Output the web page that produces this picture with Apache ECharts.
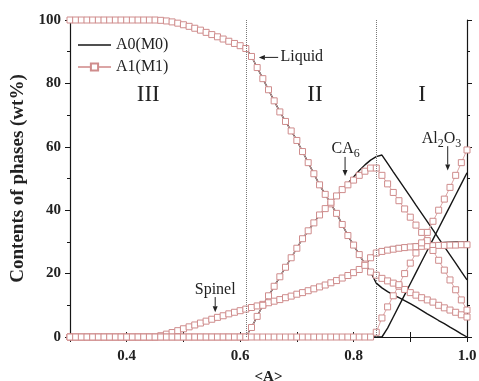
<!DOCTYPE html>
<html>
<head>
<meta charset="utf-8">
<script src="https://cdn.jsdelivr.net/npm/echarts@6/dist/echarts.min.js"></script>
<style>
  html, body { margin: 0; padding: 0; background: #fff; }
  #chart { width: 479px; height: 381px; }
</style>
</head>
<body>
<div id="chart"></div>
<script>
// composition <A>, step 0.01 from 0.30 to 1.00
const xValues = [
  0.30, 0.31, 0.32, 0.33, 0.34, 0.35, 0.36, 0.37, 0.38, 0.39,
  0.40, 0.41, 0.42, 0.43, 0.44, 0.45, 0.46, 0.47, 0.48, 0.49,
  0.50, 0.51, 0.52, 0.53, 0.54, 0.55, 0.56, 0.57, 0.58, 0.59,
  0.60, 0.61, 0.62, 0.63, 0.64, 0.65, 0.66, 0.67, 0.68, 0.69,
  0.70, 0.71, 0.72, 0.73, 0.74, 0.75, 0.76, 0.77, 0.78, 0.79,
  0.80, 0.81, 0.82, 0.83, 0.84, 0.85, 0.86, 0.87, 0.88, 0.89,
  0.90, 0.91, 0.92, 0.93, 0.94, 0.95, 0.96, 0.97, 0.98, 0.99, 1.00
];

// A1(M1) phases (wt%)
const liquidA1 = [
  100, 100, 100, 100, 100, 100, 100, 100, 100, 100, 100, 100, 100, 100, 100, 100,
  99.9, 99.7, 99.4, 99.0, 98.5, 98.0, 97.4, 96.8, 96.1, 95.4, 94.7, 94.0, 93.3, 92.6, 91.9, 91.0,
  88.5, 85, 81.5, 78, 74.5, 71, 68, 65, 62, 58.5, 55, 51.5, 48, 45, 42, 39, 35.5, 32, 29, 26, 23, 20.5,
  19.5, 18.5, 17.7, 17, 16, 15, 14, 13.2, 12.4, 11.7, 11, 10, 9.2, 8.5, 7.8, 7, 6.3
];
const spinelA1 = [
  0, 0, 0, 0, 0, 0, 0, 0, 0, 0, 0, 0, 0, 0, 0, 0,
  0.4, 0.9, 1.4, 2.0, 2.6, 3.2, 3.8, 4.4, 5.0, 5.6, 6.2, 6.7, 7.3, 7.8, 8.3, 8.8,
  9.3, 9.8, 10.3, 10.8, 11.3, 11.8, 12.4, 12.9, 13.5, 14.0, 14.6, 15.2, 15.8, 16.4, 17.1, 17.8, 18.6, 19.4, 20.3, 21.3, 22.6, 25.0,
  26.5, 27.0, 27.4, 27.7, 28.0, 28.2, 28.4, 28.5, 28.6, 28.7, 28.8, 28.9, 28.9, 29.0, 29.0, 29.1, 29.1
];
const ca6A1 = [
  0, 0, 0, 0, 0, 0, 0, 0, 0, 0, 0, 0, 0, 0, 0, 0,
  0, 0, 0, 0, 0, 0, 0, 0, 0, 0, 0, 0, 0, 0, 0, 0,
  3, 6.5, 10, 13, 16, 19, 22, 25, 28, 31, 33.5, 36, 38.5, 40.5, 42.5, 44.5, 46.5, 48, 49.5, 51, 52.3, 53.3,
  53.3, 51, 48.3, 45.6, 43, 40.4, 37.8, 35.3, 33, 30.4, 27.3, 24.2, 21.1, 18.0, 14.9, 11.7, 8.5
];
const al2o3A1 = [
  0, 0, 0, 0, 0, 0, 0, 0, 0, 0, 0, 0, 0, 0, 0, 0,
  0, 0, 0, 0, 0, 0, 0, 0, 0, 0, 0, 0, 0, 0, 0, 0,
  0, 0, 0, 0, 0, 0, 0, 0, 0, 0, 0, 0, 0, 0, 0, 0, 0, 0, 0, 0, 0, 0,
  1.5, 6, 9.5, 13, 16.5, 20, 23.3, 26.5, 29.7, 33, 36.5, 40, 43.5, 47.2, 51, 55, 59
];

// A0(M0) phases (wt%)
const liquidA0 = [
  100, 100, 100, 100, 100, 100, 100, 100, 100, 100, 100, 100, 100, 100, 100, 100,
  99.9, 99.7, 99.4, 99.0, 98.5, 98.0, 97.4, 96.8, 96.1, 95.4, 94.7, 94.0, 93.3, 92.6, 91.9, 91.0,
  88.5, 85, 81.5, 78, 74.5, 71, 68, 65, 62, 58.5, 55, 51.5, 48, 45, 42, 39, 35.5, 32, 29, 26, 23, 20.5,
  17, 15.5, 14.3, 13.3, 12.4, 11.5, 10.5, 9.5, 8.4, 7.3, 6.3, 5.2, 4.2, 3.1, 2.1, 1.0, 0
];
const spinelA0 = [
  0, 0, 0, 0, 0, 0, 0, 0, 0, 0, 0, 0, 0, 0, 0, 0,
  0.4, 0.9, 1.4, 2.0, 2.6, 3.2, 3.8, 4.4, 5.0, 5.6, 6.2, 6.7, 7.3, 7.8, 8.3, 8.8,
  9.3, 9.8, 10.3, 10.8, 11.3, 11.8, 12.4, 12.9, 13.5, 14.0, 14.6, 15.2, 15.8, 16.4, 17.1, 17.8, 18.6, 19.4, 20.3, 21.3, 22.6, 25.0,
  27, 27.7, 28.1, 28.4, 28.7, 28.9, 29.1, 29.3, 29.4, 29.5, 29.6, 29.7, 29.8, 29.9, 30.0, 30.0, 30.1
];
const ca6A0 = [
  0, 0, 0, 0, 0, 0, 0, 0, 0, 0, 0, 0, 0, 0, 0, 0,
  0, 0, 0, 0, 0, 0, 0, 0, 0, 0, 0, 0, 0, 0, 0, 0,
  3, 6.5, 10, 13, 16, 19, 22, 25, 28, 31, 33.5, 36, 38.5, 40.5, 42.5, 44.5, 46.5,
  48.5, 50.5, 52.5, 54.3, 55.8, 56.9, 57.4,
  54.8, 52.1, 49.5, 46.9, 44.3, 41.6, 39.0, 36.4, 33.8, 31.1, 28.5, 25.9, 23.3, 20.6, 18.0
];
const al2o3A0 = [
  0, 0, 0, 0, 0, 0, 0, 0, 0, 0, 0, 0, 0, 0, 0, 0,
  0, 0, 0, 0, 0, 0, 0, 0, 0, 0, 0, 0, 0, 0, 0, 0,
  0, 0, 0, 0, 0, 0, 0, 0, 0, 0, 0, 0, 0, 0, 0, 0, 0, 0, 0, 0, 0, 0, 0, 0,
  2.8, 6.3, 9.8, 13.3, 16.8, 20.3, 23.8, 27.3, 30.8, 34.3, 37.8, 41.3, 44.8, 48.3, 51.8
];

// region boundaries
const boundaries = [0.612, 0.836];

// region labels and phase annotations (data coords)
const regionNames = ['III', 'II', 'I'];
const regionPos = [[0.438, 76.5], [0.732, 76.5], [0.921, 76.5]];
const phaseNames = ['Liquid', 'CA6', 'Al2O3', 'Spinel'];
const phaseRich = ['{n|Liquid}', '{n|CA}{s|6}', '{n|Al}{s|2}{n|O}{s|3}', '{n|Spinel}'];
const phaseTextPos = [[0.671, 88.5], [0.786, 59.5], [0.955, 62.5], [0.556, 15]];
const arrowFrom = [[0.667, 88.2], [0.785, 56.8], [0.966, 60.2], [0.556, 12.6]];
const arrowTo = [[0.633, 88.2], [0.785, 50.8], [0.966, 52.5], [0.556, 7.8]];

const FONT = 'Liberation Serif';
const BLACK = '#161616';
const PINK = '#cf8c8c';

const pairs = ys => ys.map((y, i) => [xValues[i], y]);

const black = ys => ({
  name: 'A0(M0)',
  type: 'line',
  data: pairs(ys),
  symbol: 'none',
  lineStyle: {color: BLACK, width: 1.4},
  itemStyle: {color: BLACK},
  z: 2
});
const pink = ys => ({
  name: 'A1(M1)',
  type: 'line',
  data: pairs(ys),
  symbol: 'rect',
  symbolSize: 6,
  showSymbol: true,
  lineStyle: {color: '#dba5a5', width: 1},
  itemStyle: {color: '#fff', borderColor: PINK, borderWidth: 1},
  z: 3
});

const chart = echarts.init(document.getElementById('chart'));

const series = [
  black(liquidA0), black(spinelA0), black(ca6A0), black(al2o3A0),
  pink(liquidA1), pink(spinelA1), pink(ca6A1), pink(al2o3A1)
];
series[0].markLine = {
  silent: true,
  symbol: 'none',
  label: {show: false},
  lineStyle: {color: '#777', type: 'dotted', width: 1},
  data: boundaries.map(v => ({xAxis: v}))
};

const axisLine = {show: true, lineStyle: {color: BLACK, width: 1.2}};
const axisTick = {show: true, inside: false, length: 5, lineStyle: {color: BLACK}};
const yMinor = {show: true, splitNumber: 2, length: 3, lineStyle: {color: BLACK}};

chart.setOption({
  animation: false,
  grid: {left: 70, right: 12, top: 20, bottom: 44, outerBoundsMode: 'none'},
  legend: {
    data: [
      {name: 'A0(M0)', icon: 'path://M0,0H100V5H0Z'},
      {name: 'A1(M1)'}
    ],
    orient: 'vertical',
    left: 72,
    top: 32,
    itemWidth: 33,
    itemHeight: 9,
    itemGap: 6,
    textStyle: {fontFamily: FONT, fontSize: 16, color: '#222'}
  },
  xAxis: [
    {
      type: 'value', min: 0.3, max: 1.0, interval: 0.1,
      axisLine: axisLine, axisTick: axisTick, splitLine: {show: false},
      name: '<A>', nameLocation: 'middle', nameGap: 33,
      nameTextStyle: {fontFamily: FONT, fontWeight: 'bold', fontSize: 15, color: '#222'},
      axisLabel: {
        fontFamily: FONT, fontWeight: 'bold', fontSize: 15, color: '#222', margin: 12,
        formatter: v => (Math.round(v * 10) % 2 === 0 ? v.toFixed(1) : '')
      }
    },
    {
      type: 'value', min: 0.3, max: 1.0, interval: 0.1, position: 'top',
      axisLine: axisLine, axisTick: axisTick, splitLine: {show: false},
      axisLabel: {show: false}
    }
  ],
  yAxis: [
    {
      type: 'value', min: 0, max: 100, interval: 20,
      axisLine: axisLine, axisTick: axisTick, minorTick: yMinor, splitLine: {show: false},
      name: 'Contents of phases (wt%)', nameLocation: 'middle', nameGap: 40,
      nameTextStyle: {fontFamily: FONT, fontWeight: 'bold', fontSize: 19, color: '#222'},
      axisLabel: {fontFamily: FONT, fontWeight: 'bold', fontSize: 15, color: '#222', margin: 9}
    },
    {
      type: 'value', min: 0, max: 100, interval: 20, position: 'right',
      axisLine: axisLine, axisTick: axisTick, minorTick: yMinor, splitLine: {show: false},
      axisLabel: {show: false}
    }
  ],
  series: series
});

// annotations placed through the chart's own coordinate conversion
const toPx = p => chart.convertToPixel({xAxisIndex: 0, yAxisIndex: 0}, p);
const graphics = [];
regionNames.forEach((t, i) => {
  const [x, y] = toPx(regionPos[i]);
  graphics.push({
    type: 'text', x: x, y: y, z: 10,
    style: {text: t, fontFamily: FONT, fontSize: 23, fill: '#222', align: 'center', verticalAlign: 'middle'}
  });
});
phaseNames.forEach((t, i) => {
  const [tx, ty] = toPx(phaseTextPos[i]);
  const [x1, y1] = toPx(arrowFrom[i]);
  const [x2, y2] = toPx(arrowTo[i]);
  const horizontal = Math.abs(y2 - y1) < 1;
  graphics.push({
    type: 'text', x: tx, y: ty, z: 10,
    style: {
      text: phaseRich[i],
      align: horizontal ? 'left' : 'center',
      verticalAlign: 'middle',
      rich: {
        n: {fontFamily: FONT, fontSize: 16, fill: '#222', lineHeight: 18},
        s: {fontFamily: FONT, fontSize: 12, fill: '#222', lineHeight: 18, padding: [10, 0, 0, 0]}
      }
    }
  });
  const ang = Math.atan2(y2 - y1, x2 - x1);
  const hl = 6, hw = 2.5;
  const bx = x2 - hl * Math.cos(ang), by = y2 - hl * Math.sin(ang);
  graphics.push({
    type: 'line', z: 10,
    shape: {x1: x1, y1: y1, x2: bx, y2: by},
    style: {stroke: '#222', lineWidth: 1}
  });
  graphics.push({
    type: 'polygon', z: 10,
    shape: {points: [
      [x2, y2],
      [bx + hw * Math.sin(ang), by - hw * Math.cos(ang)],
      [bx - hw * Math.sin(ang), by + hw * Math.cos(ang)]
    ]},
    style: {fill: '#222'}
  });
});
chart.setOption({graphic: graphics});
</script>
</body>
</html>
